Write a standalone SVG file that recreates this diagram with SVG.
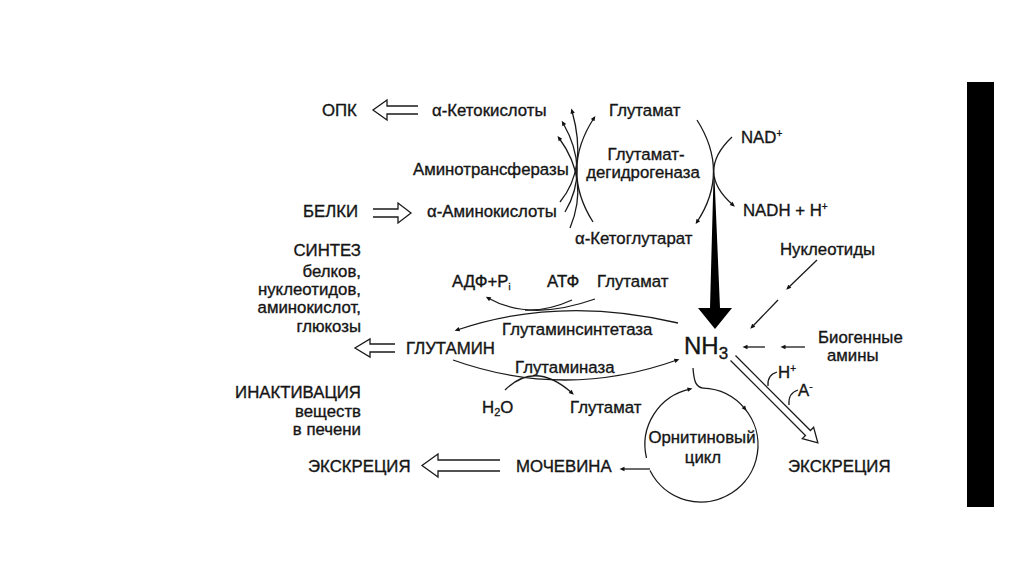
<svg xmlns="http://www.w3.org/2000/svg" width="1024" height="574" viewBox="0 0 1024 574">
<defs>
<style>
text{font-family:"Liberation Sans",Arial,sans-serif;font-size:16.8px;fill:#151515;stroke:#151515;stroke-width:0.35}
.ln{fill:none;stroke:#1a1a1a;stroke-width:1.3}
.ha{fill:#fff;stroke:#1a1a1a;stroke-width:1.3;stroke-linejoin:miter}
.r{text-anchor:end}
.big{font-size:24px}
</style>
<marker id="dot" viewBox="-3 -3 6 6" markerWidth="6" markerHeight="6" markerUnits="userSpaceOnUse" orient="auto">
<path d="M-2.5,-2.2 L2.5,0 L-2.5,2.2 Z" fill="#111"/>
</marker>
</defs>
<rect width="1024" height="574" fill="#fff"/>
<rect id="bar" x="967" y="82" width="27" height="425" fill="#000"/>

<g id="connectors">
<path class="ha" d="M418,106 L387,106 L387,100 L373,110 L387,120 L387,114 L418,114"/>
<path class="ha" d="M373,209 L398,209 L398,203 L411,213 L398,223 L398,217 L373,217"/>
<path class="ha" d="M395,344 L370,344 L370,339 L355,348 L370,357 L370,352 L395,352"/>
<path class="ha" d="M500,460 L438,460 L438,454 L422,465.5 L438,477 L438,471 L500,471"/>
<path class="ha" transform="translate(733,358) rotate(45)" d="M0,-3.5 L106,-3.5 L106,-8 L120,0 L106,8 L106,3.5 L0,3.5"/>
<path class="ln" marker-end="url(#dot)" d="M593,222 Q560,170 594,118"/>
<path class="ln" marker-end="url(#dot)" d="M560,202 Q588,168 572,111"/>
<path class="ln" marker-end="url(#dot)" d="M565,212 Q590,170 563,123"/>
<path class="ln" marker-end="url(#dot)" d="M570,228 Q590,180 559,138"/>
<path class="ln" marker-end="url(#dot)" d="M697,120 Q730,172 697,222"/>
<path class="ln" marker-end="url(#dot)" d="M732,137 Q695,172 733,205"/>
<polygon id="bigarrow" fill="#000" points="713.5,178 714.5,178 720,308 732,308 715,329 698,308 710,308"/>
<path class="ln" marker-end="url(#dot)" d="M595,299 Q530,322 488,298"/>
<path class="ln" d="M572,300 Q548,311 525,310"/>
<path class="ln" marker-end="url(#dot)" d="M678,323 Q560,295 457,330"/>
<path class="ln" marker-end="url(#dot)" d="M453,360 Q565,400 677,360"/>
<path class="ln" marker-end="url(#dot)" d="M505,390 Q535,360 572,393"/>
<path class="ln" marker-end="url(#dot)" d="M817,260 L788,288"/>
<path class="ln" marker-end="url(#dot)" d="M778,300 L752,327"/>
<path class="ln" marker-end="url(#dot)" d="M805,347 L783,347"/>
<path class="ln" marker-end="url(#dot)" d="M765,347 L745,347"/>
<path class="ln" d="M768,386 Q767,375 777,372"/>
<path class="ln" d="M789,405 Q788,393 798,390"/>
<path class="ln" marker-end="url(#dot)" d="M646.5,458 A57,57 0 0 1 690,389.1"/>
<path class="ln" d="M693,368 C694,382 696,387 703,388.1"/>
<path class="ln" marker-end="url(#dot)" d="M703,388.1 A57,57 0 0 1 745,408.8"/>
<path class="ln" d="M745,408.8 A57,57 0 1 1 650,470.5"/>
<path class="ln" marker-end="url(#dot)" d="M650,469 L622,469"/>
</g>

<g id="n-opk"><text x="322" y="116">ОПК</text></g>
<g id="n-ketoacids"><text x="432" y="116">α-Кетокислоты</text></g>
<g id="n-glu1"><text x="609" y="116">Глутамат</text></g>
<g id="n-nad"><text x="741" y="143">NAD<tspan dy="-6" font-size="10">+</tspan></text></g>
<g id="n-aminotransferases"><text x="413" y="175">Аминотрансферазы</text></g>
<g id="n-gdh"><text x="646" y="160" text-anchor="middle">Глутамат-</text><text x="643" y="178" text-anchor="middle">дегидрогеназа</text></g>
<g id="n-belki"><text x="303" y="217">БЕЛКИ</text></g>
<g id="n-aminoacids"><text x="427" y="217">α-Аминокислоты</text></g>
<g id="n-nadh"><text x="743" y="216">NADH + H<tspan dy="-6" font-size="10">+</tspan></text></g>
<g id="n-akg"><text x="575" y="244">α-Кетоглутарат</text></g>
<g id="n-synth"><text class="r" x="361" y="256">СИНТЕЗ</text><text class="r" x="361" y="277">белков,</text><text class="r" x="361" y="295">нуклеотидов,</text><text class="r" x="361" y="313">аминокислот,</text><text class="r" x="361" y="332">глюкозы</text></g>
<g id="n-adp"><text x="452" y="287">АДФ+P<tspan dy="3" font-size="9">i</tspan></text></g>
<g id="n-atp"><text x="547" y="287">АТФ</text></g>
<g id="n-glu2"><text x="597" y="287">Глутамат</text></g>
<g id="n-gs"><text x="502" y="335">Глутаминсинтетаза</text></g>
<g id="n-glutamine"><text x="406" y="354">ГЛУТАМИН</text></g>
<g id="n-glutaminase"><text x="515" y="373">Глутаминаза</text></g>
<g id="n-h2o"><text x="482" y="413">H<tspan dy="3" font-size="11">2</tspan><tspan dy="-3">O</tspan></text></g>
<g id="n-glu3"><text x="570" y="413">Глутамат</text></g>
<g id="n-inact"><text class="r" x="361" y="398">ИНАКТИВАЦИЯ</text><text class="r" x="361" y="417">веществ</text><text class="r" x="361" y="435">в печени</text></g>
<g id="n-nh3"><text class="big" x="684" y="354">NH<tspan dy="5" font-size="17">3</tspan></text></g>
<g id="n-nucleotides"><text x="780" y="255">Нуклеотиды</text></g>
<g id="n-biogenic"><text x="818" y="343">Биогенные</text><text x="827" y="361">амины</text></g>
<g id="n-h"><text x="778" y="378">H<tspan dy="-6" font-size="10">+</tspan></text></g>
<g id="n-a"><text x="798" y="396">A<tspan dy="-6" font-size="10">-</tspan></text></g>
<g id="n-excr2"><text x="788" y="472">ЭКСКРЕЦИЯ</text></g>
<g id="n-orn"><text x="702" y="443" text-anchor="middle">Орнитиновый</text><text x="703" y="463" text-anchor="middle">цикл</text></g>
<g id="n-excr1"><text x="308" y="472">ЭКСКРЕЦИЯ</text></g>
<g id="n-urea"><text x="516" y="472">МОЧЕВИНА</text></g>
</svg>
